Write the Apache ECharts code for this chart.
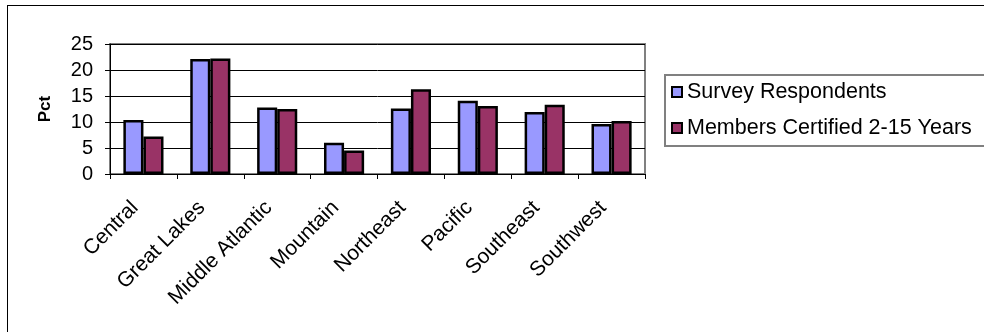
<!DOCTYPE html>
<html>
<head>
<meta charset="utf-8">
<script src="https://cdn.jsdelivr.net/npm/echarts@6/dist/echarts.min.js"></script>
<style>
  html, body { margin: 0; padding: 0; background: #fff; overflow: hidden; }
  #chart { width: 984px; height: 332px; }
  /* frame of the chart area, only top and left edges are inside the picture */
  #frame { position: absolute; left: 7px; top: 5px; width: 990px; height: 340px;
           border-left: 1.5px solid #000; border-top: 1.5px solid #000; pointer-events: none; }
</style>
</head>
<body>
<div id="chart"></div>
<div id="frame"></div>
<script>
var regions = ['Central', 'Great Lakes', 'Middle Atlantic', 'Mountain', 'Northeast', 'Pacific', 'Southeast', 'Southwest'];
var surveyRespondents = [10.4, 22.1, 12.8, 6.0, 12.6, 14.1, 11.9, 9.6];
var membersCertified = [7.2, 22.2, 12.5, 4.5, 16.3, 13.1, 13.3, 10.2];

var chart = echarts.init(document.getElementById('chart'));
var font = 'Liberation Sans, Arial, sans-serif';

var option = {
    animation: false,
    textStyle: { fontFamily: font },
    grid: {
        left: 110, top: 44, right: 339, bottom: 158,
        show: true, borderColor: '#808080', borderWidth: 2
    },
    legend: {
        orient: 'vertical',
        left: 665, top: 75,
        padding: [6, 40, 7, 6],
        itemGap: 14,
        itemWidth: 10, itemHeight: 10,
        icon: 'rect',
        borderColor: '#808080', borderWidth: 2,
        textStyle: { fontFamily: font, fontSize: 21.5, color: '#000' },
        data: ['Survey Respondents', 'Members Certified 2-15 Years']
    },
    xAxis: {
        type: 'category',
        data: regions,
        axisLine: { lineStyle: { color: '#000', width: 1 } },
        axisTick: { show: true, length: 5, lineStyle: { color: '#000' } },
        axisLabel: { rotate: 45, fontSize: 21, color: '#000', margin: 22, fontFamily: font, padding: [0, 12, 0, 0] }
    },
    yAxis: {
        type: 'value',
        min: 0, max: 25, interval: 5,
        name: 'Pct',
        nameLocation: 'middle',
        nameGap: 56,
        nameTextStyle: { fontSize: 17, fontWeight: 'bold', color: '#000', fontFamily: font },
        axisLine: { show: true, lineStyle: { color: '#000', width: 1 } },
        axisTick: { show: true, length: 5, lineStyle: { color: '#000' } },
        axisLabel: { fontSize: 20, color: '#000', margin: 17, fontFamily: font },
        splitLine: { lineStyle: { color: '#000', width: 1 } }
    },
    series: [
        {
            name: 'Survey Respondents',
            type: 'bar',
            data: surveyRespondents,
            barGap: '0%',
            barCategoryGap: '40%',
            itemStyle: { color: '#9999ff', borderColor: '#000', borderWidth: 2.5 }
        },
        {
            name: 'Members Certified 2-15 Years',
            type: 'bar',
            data: membersCertified,
            itemStyle: { color: '#993366', borderColor: '#000', borderWidth: 2.5 }
        }
    ]
};

chart.setOption(option);
</script>
</body>
</html>
